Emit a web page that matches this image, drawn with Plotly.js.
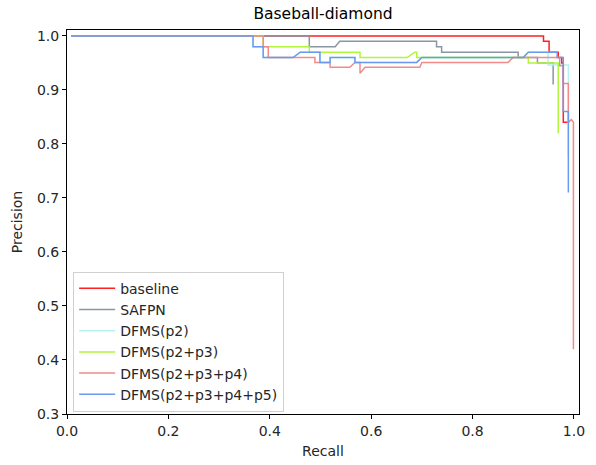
<!DOCTYPE html>
<html>
<head>
<meta charset="utf-8">
<script src="https://cdn.plot.ly/plotly-3.0.1.min.js"></script>
<style>html,body{margin:0;padding:0;background:#fff;}#chart{width:596px;height:465px;}</style>
</head>
<body>
<div id="chart"></div>
<script>
// Series names
const seriesNames = ["baseline", "SAFPN", "DFMS(p2)", "DFMS(p2+p3)", "DFMS(p2+p3+p4)", "DFMS(p2+p3+p4+p5)"];

// baseline
const baselineRecall =    [0.008, 0.940, 0.940, 0.951, 0.951, 0.969, 0.969, 0.976, 0.976, 0.979, 0.979, 0.989];
const baselinePrecision = [1.000, 1.000, 0.990, 0.990, 0.970, 0.970, 0.960, 0.960, 0.950, 0.950, 0.840, 0.840];

// SAFPN
const safpnRecall =    [0.008, 0.478, 0.478, 0.529, 0.538, 0.729, 0.729, 0.739, 0.739, 0.890, 0.890, 0.928, 0.928, 0.959, 0.959];
const safpnPrecision = [1.000, 1.000, 0.980, 0.980, 0.990, 0.990, 0.980, 0.980, 0.970, 0.970, 0.960, 0.960, 0.950, 0.950, 0.910];

// DFMS(p2)
const p2Recall =    [0.008, 0.367, 0.367, 0.387, 0.387, 0.446, 0.460, 0.499, 0.499, 0.519, 0.519, 0.568, 0.568, 0.690, 0.700, 0.900, 0.910, 0.949, 0.949, 0.989, 0.989];
const p2Precision = [1.000, 1.000, 0.980, 0.980, 0.960, 0.960, 0.970, 0.970, 0.951, 0.951, 0.960, 0.960, 0.951, 0.951, 0.960, 0.960, 0.970, 0.970, 0.946, 0.946, 0.780];

// DFMS(p2+p3)
const p23Recall =    [0.008, 0.387, 0.387, 0.478, 0.478, 0.578, 0.578, 0.671, 0.686, 0.690, 0.690, 0.910, 0.910, 0.969, 0.969];
const p23Precision = [1.000, 1.000, 0.980, 0.980, 0.970, 0.970, 0.960, 0.960, 0.970, 0.970, 0.960, 0.960, 0.950, 0.950, 0.820];

// DFMS(p2+p3+p4)
const p234Recall =    [0.008, 0.387, 0.387, 0.397, 0.397, 0.489, 0.489, 0.519, 0.519, 0.558, 0.568, 0.578, 0.578, 0.588, 0.696, 0.700, 0.870, 0.880, 0.972, 0.972, 0.979, 0.979, 0.989, 0.989, 0.995, 0.999, 0.999];
const p234Precision = [1.000, 1.000, 0.980, 0.980, 0.960, 0.960, 0.951, 0.951, 0.942, 0.942, 0.951, 0.951, 0.931, 0.942, 0.942, 0.951, 0.951, 0.960, 0.960, 0.945, 0.945, 0.912, 0.912, 0.840, 0.845, 0.840, 0.420];

// DFMS(p2+p3+p4+p5)
const p2345Recall =    [0.008, 0.367, 0.367, 0.387, 0.387, 0.446, 0.460, 0.499, 0.499, 0.519, 0.519, 0.568, 0.568, 0.690, 0.700, 0.900, 0.910, 0.967, 0.967, 0.979, 0.979, 0.989, 0.989];
const p2345Precision = [1.000, 1.000, 0.980, 0.980, 0.960, 0.960, 0.970, 0.970, 0.951, 0.951, 0.960, 0.960, 0.951, 0.951, 0.960, 0.960, 0.970, 0.970, 0.960, 0.960, 0.860, 0.860, 0.710];

// Axis ticks
const xTicks = [0.0, 0.2, 0.4, 0.6, 0.8, 1.0];
const xTickLabels = ["0.0", "0.2", "0.4", "0.6", "0.8", "1.0"];
const yTicks = [0.3, 0.4, 0.5, 0.6, 0.7, 0.8, 0.9, 1.0];
const yTickLabels = ["0.3", "0.4", "0.5", "0.6", "0.7", "0.8", "0.9", "1.0"];

const colors = ["#ff2020", "#8a96a3", "#b4f2f2", "#b0f53a", "#f28a8a", "#6a9af0"];
const xs = [baselineRecall, safpnRecall, p2Recall, p23Recall, p234Recall, p2345Recall];
const ys = [baselinePrecision, safpnPrecision, p2Precision, p23Precision, p234Precision, p2345Precision];

const traces = seriesNames.map((n, i) => ({
  type: "scatter", mode: "lines", name: n,
  x: xs[i], y: ys[i],
  line: {color: colors[i], width: 1.5}
}));

const fam = "DejaVu Sans";
const txt = "#262626";
const layout = {
  width: 596, height: 465,
  margin: {l: 67, r: 17, t: 30, b: 51},
  paper_bgcolor: "#fff", plot_bgcolor: "#fff",
  font: {family: fam, size: 14, color: txt},
  title: {text: "Baseball-diamond", x: 0.5, xref: "paper", y: 1, yref: "container", yanchor: "top", pad: {t: 8}, font: {family: fam, size: 15.5, color: "#000"}},
  xaxis: {
    range: [0, 1.01], tickvals: xTicks, ticktext: xTickLabels,
    showgrid: false, zeroline: false, showline: true, mirror: true,
    linecolor: "#000", linewidth: 1, ticks: "outside", ticklen: 4, tickcolor: "#000",
    tickfont: {family: fam, size: 14, color: txt},
    title: {text: "Recall", font: {family: fam, size: 14, color: txt}, standoff: 8}
  },
  yaxis: {
    range: [0.3, 1.011], tickvals: yTicks, ticktext: yTickLabels,
    showgrid: false, zeroline: false, showline: true, mirror: true,
    linecolor: "#000", linewidth: 1, ticks: "outside", ticklen: 4, tickcolor: "#000",
    tickfont: {family: fam, size: 14, color: txt},
    title: {text: "Precision", font: {family: fam, size: 14, color: txt}, standoff: 11}
  },
  legend: {
    x: 0.012, y: 0.006, xanchor: "left", yanchor: "bottom",
    bgcolor: "rgba(255,255,255,0.8)", bordercolor: "#d0d0d0", borderwidth: 1,
    itemwidth: 36,
    font: {family: fam, size: 14, color: txt}
  },
  showlegend: true
};

Plotly.newPlot("chart", traces, layout, {staticPlot: true, displayModeBar: false});
</script>
</body>
</html>
